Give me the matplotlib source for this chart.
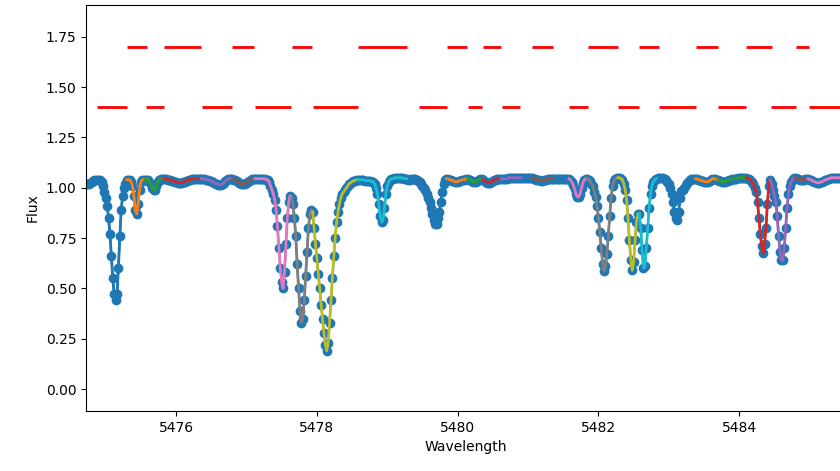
import matplotlib
matplotlib.use("Agg")
import matplotlib.pyplot as plt
import numpy as np

# spectrum sampling (start, step) and flux
wl_start = 5474.70
wl_step = 0.02
flux = [
    1.02, 1.02, 1.02, 1.02, 1.025, 1.03, 1.035, 1.04, 1.04, 1.04,     # 5474.70
    1.04, 1.04, 1.03, 1.01, 0.98, 0.95, 0.91, 0.85, 0.77, 0.66,       # 5474.90
    0.55, 0.47, 0.44, 0.47, 0.60, 0.76, 0.89, 0.96, 1.00, 1.02,       # 5475.10
    1.04, 1.04, 1.04, 1.03, 1.01, 0.96, 0.89, 0.87, 0.92, 0.99,       # 5475.30
    1.03, 1.04, 1.04, 1.04, 1.04, 1.04, 1.03, 1.02, 1.00, 0.99,       # 5475.50
    0.99, 1.01, 1.03, 1.04, 1.045, 1.045, 1.045, 1.045, 1.045, 1.04,  # 5475.70
    1.04, 1.04, 1.035, 1.035, 1.03, 1.03, 1.025, 1.025, 1.025, 1.025, # 5475.90
    1.03, 1.03, 1.035, 1.035, 1.04, 1.04, 1.045, 1.045, 1.045, 1.045, # 5476.10
    1.045, 1.045, 1.045, 1.045, 1.045, 1.045, 1.04, 1.04, 1.04, 1.035,  # 5476.30
    1.035, 1.03, 1.025, 1.02, 1.02, 1.015, 1.015, 1.015, 1.02, 1.025,   # 5476.50
    1.035, 1.04, 1.045, 1.045, 1.045, 1.045, 1.04, 1.04, 1.035, 1.03,   # 5476.70
    1.025, 1.02, 1.02, 1.02, 1.02, 1.025, 1.03, 1.035, 1.04, 1.045,     # 5476.90
    1.045, 1.045, 1.045, 1.045, 1.045, 1.045, 1.045, 1.045, 1.045, 1.04,  # 5477.10
    1.04, 1.03, 1.01, 0.99, 0.97, 0.94, 0.89, 0.81, 0.70, 0.60,       # 5477.30
    0.53, 0.50, 0.58, 0.72, 0.85, 0.93, 0.96, 0.95, 0.92, 0.85,       # 5477.50
    0.76, 0.62, 0.50, 0.39, 0.33, 0.35, 0.44, 0.56, 0.68, 0.80,       # 5477.70
    0.87, 0.89, 0.88, 0.80, 0.72, 0.65, 0.57, 0.50, 0.42, 0.35,       # 5477.90
    0.28, 0.22, 0.19, 0.23, 0.33, 0.44, 0.55, 0.66, 0.75, 0.83,       # 5478.10
    0.88, 0.92, 0.95, 0.97, 0.98, 0.99, 1.00, 1.01, 1.02, 1.025,      # 5478.30
    1.03, 1.035, 1.035, 1.04, 1.04, 1.04, 1.04, 1.04, 1.04, 1.035,    # 5478.50
    1.035, 1.035, 1.035, 1.035, 1.03, 1.03, 1.02, 1.00, 0.97, 0.92,   # 5478.70
    0.86, 0.83, 0.84, 0.90, 0.97, 1.01, 1.03, 1.04, 1.045, 1.045,     # 5478.90
    1.05, 1.05, 1.05, 1.05, 1.05, 1.05, 1.05, 1.045, 1.045, 1.045,    # 5479.10
    1.04, 1.04, 1.045, 1.045, 1.045, 1.045, 1.04, 1.035, 1.03, 1.02,  # 5479.30
    1.01, 1.00, 0.99, 0.97, 0.95, 0.93, 0.90, 0.87, 0.84, 0.82,       # 5479.50
    0.82, 0.85, 0.88, 0.93, 0.98, 1.02, 1.04, 1.045, 1.045, 1.04,     # 5479.70
    1.04, 1.035, 1.035, 1.03, 1.03, 1.03, 1.035, 1.035, 1.04, 1.04,   # 5479.90
    1.04, 1.045, 1.045, 1.04, 1.04, 1.035, 1.03, 1.03, 1.03, 1.035,   # 5480.10
    1.04, 1.045, 1.045, 1.04, 1.035, 1.03, 1.025, 1.025, 1.025, 1.03, # 5480.30
    1.035, 1.04, 1.04, 1.045, 1.045, 1.045, 1.045, 1.045, 1.045, 1.045,  # 5480.50
    1.045, 1.05, 1.05, 1.05, 1.05, 1.05, 1.05, 1.05, 1.05, 1.05,      # 5480.70
    1.05, 1.05, 1.05, 1.05, 1.05, 1.05, 1.05, 1.05, 1.05, 1.045,      # 5480.90
    1.045, 1.04, 1.04, 1.04, 1.035, 1.035, 1.04, 1.04, 1.04, 1.045,   # 5481.10
    1.045, 1.045, 1.045, 1.045, 1.045, 1.045, 1.045, 1.045, 1.045, 1.045,  # 5481.30
    1.045, 1.045, 1.045, 1.045, 1.045, 1.04, 1.03, 1.015, 0.995, 0.97,  # 5481.50
    0.955, 0.955, 0.97, 1.00, 1.025, 1.04, 1.045, 1.045, 1.04, 1.035,   # 5481.70
    1.02, 1.01, 0.98, 0.955, 0.91, 0.85, 0.78, 0.70, 0.62, 0.585,     # 5481.90
    0.61, 0.67, 0.76, 0.86, 0.95, 1.01, 1.035, 1.045, 1.05, 1.05,     # 5482.10
    1.05, 1.045, 1.04, 1.02, 0.99, 0.94, 0.85, 0.74, 0.64, 0.59,      # 5482.30
    0.63, 0.74, 0.83, 0.87, 0.87, 0.80, 0.69, 0.60, 0.61, 0.70,       # 5482.50
    0.80, 0.90, 0.97, 1.01, 1.03, 1.04, 1.045, 1.05, 1.05, 1.05,      # 5482.70
    1.05, 1.05, 1.045, 1.04, 1.03, 1.02, 1.00, 0.97, 0.93, 0.88,      # 5482.90
    0.85, 0.84, 0.88, 0.95, 0.985, 0.99, 1.00, 1.015, 1.025, 1.035,   # 5483.10
    1.04, 1.045, 1.045, 1.045, 1.045, 1.045, 1.04, 1.04, 1.035, 1.035,  # 5483.30
    1.03, 1.03, 1.03, 1.03, 1.035, 1.04, 1.045, 1.045, 1.045, 1.04,   # 5483.50
    1.04, 1.035, 1.035, 1.03, 1.03, 1.03, 1.035, 1.035, 1.04, 1.04,   # 5483.70
    1.045, 1.045, 1.045, 1.045, 1.05, 1.05, 1.05, 1.05, 1.05, 1.05,   # 5483.90
    1.05, 1.045, 1.045, 1.04, 1.03, 1.02, 1.00, 0.98, 0.93, 0.85,     # 5484.10
    0.77, 0.71, 0.675, 0.72, 0.80, 0.92, 1.01, 1.04, 1.02, 0.99,      # 5484.30
    0.96, 0.93, 0.86, 0.76, 0.68, 0.64, 0.64, 0.70, 0.80, 0.90,       # 5484.50
    0.97, 1.01, 1.03, 1.045, 1.05, 1.05, 1.045, 1.045, 1.04, 1.04,    # 5484.70
    1.04, 1.04, 1.045, 1.045, 1.045, 1.04, 1.04, 1.035, 1.03, 1.03,   # 5484.90
    1.025, 1.025, 1.025, 1.03, 1.03, 1.035, 1.04, 1.04, 1.045, 1.045, # 5485.10
    1.05, 1.05, 1.05, 1.05, 1.05, 1.05, 1.05, 1.05,                   # 5485.30
]

# fitting windows (alternate between the two marker rows)
win_lo = [5474.88, 5475.30, 5475.57, 5475.83, 5476.37, 5476.80, 5477.12, 5477.65,
          5477.95, 5478.59, 5479.45, 5479.85, 5480.15, 5480.36, 5480.63, 5481.06,
          5481.58, 5481.85, 5482.28, 5482.58, 5482.86, 5483.39, 5483.70, 5484.10,
          5484.45, 5484.81, 5484.99]
win_hi = [5475.30, 5475.59, 5475.83, 5476.36, 5476.80, 5477.11, 5477.63, 5477.93,
          5478.59, 5479.28, 5479.85, 5480.13, 5480.35, 5480.62, 5480.89, 5481.36,
          5481.85, 5482.28, 5482.58, 5482.86, 5483.39, 5483.70, 5484.10, 5484.47,
          5484.81, 5484.99, 5485.50]
win_levels = [1.4, 1.7]

flux = np.array(flux)
wl = wl_start + wl_step * np.arange(len(flux))

fig = plt.figure(figsize=(8.4, 4.71), dpi=100)
ax = fig.add_axes([0.1024, 0.1274, 0.9033, 0.862])

ax.plot(wl, flux, 'o-', color='C0', markersize=6, linewidth=1.5)

for i in range(len(win_lo)):
    m = (wl >= win_lo[i] - 0.011) & (wl <= win_hi[i] + 0.011)
    ax.plot(wl[m], flux[m], linewidth=2)
    ax.hlines(win_levels[i % 2], win_lo[i], win_hi[i], colors='red', linewidth=2)

ax.set_xlim(5474.72, 5485.50)
ax.set_ylim(-0.109, 1.908)
ax.set_xlabel('Wavelength')
ax.set_ylabel('Flux')

fig.savefig('out.png', dpi=100)
